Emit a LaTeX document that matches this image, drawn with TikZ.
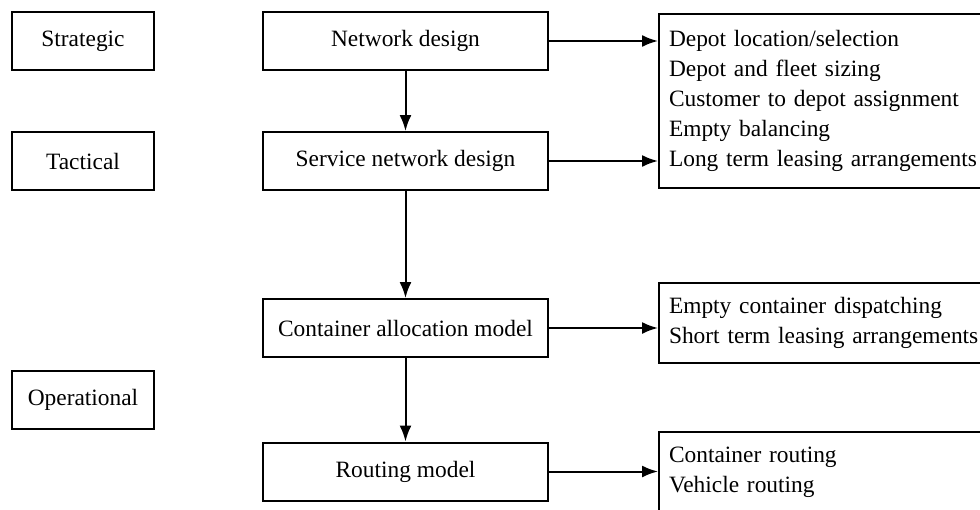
\documentclass[tikz,border=0pt]{standalone}
\usepackage{fontspec}
\setmainfont{Liberation Serif}
\usetikzlibrary{positioning, arrows.meta}

\begin{document}
\begin{tikzpicture}[x=0.5pt, y=-0.5pt,
    font=\fontsize{11.7}{14.9}\selectfont,
    levelbox/.style={draw, line width=1pt, minimum width=71pt, minimum height=29pt},
    modelbox/.style={draw, line width=1pt, minimum width=142.5pt, minimum height=29pt},
    taskbox/.style={draw, line width=1pt, anchor=west, text width=170pt, inner xsep=5pt, align=left},
    flow/.style={line width=1pt, -{Latex[length=8pt,width=6pt]}}]
    \useasboundingbox (0,0) rectangle (980,509);
    \clip (0,0) rectangle (980,509);
    % planning levels
    \node[levelbox] (str) at (83,41) {Strategic};
    \node[levelbox] (tac) at (83,161) {Tactical};
    \node[levelbox] (ope) at (83,400) {Operational};
    % models
    \node[modelbox] (nd) at (405.5,41) {Network design};
    \node[modelbox] (snd) at (405.5,161) {Service network design};
    \node[modelbox] (cam) at (405.5,328) {Container allocation model};
    \node[modelbox] (rm) at (405.5,471.5) {Routing model};
    % decisions
    \node[taskbox, minimum height=87pt] (out1) at (658,101)
        {Depot location/selection\\Depot and fleet sizing\\Customer to depot assignment\\Empty balancing\\Long term leasing arrangements};
    \node[taskbox, minimum height=40pt] (out2) at (658,323)
        {Empty container dispatching\\Short term leasing arrangements};
    \node[taskbox, minimum height=40pt] (out3) at (658,472)
        {Container routing\\Vehicle routing};
    % arrows
    \foreach \a/\b in {nd/snd, snd/cam, cam/rm}
    {
    \draw[flow] (\a) -- (\b);
    }
    \foreach \a/\b in {nd/out1, snd/out1, cam/out2, rm/out3}
    {
    \draw[flow] (\a.east) -- (\a.east -| \b.west);
    }
\end{tikzpicture}
\end{document}
